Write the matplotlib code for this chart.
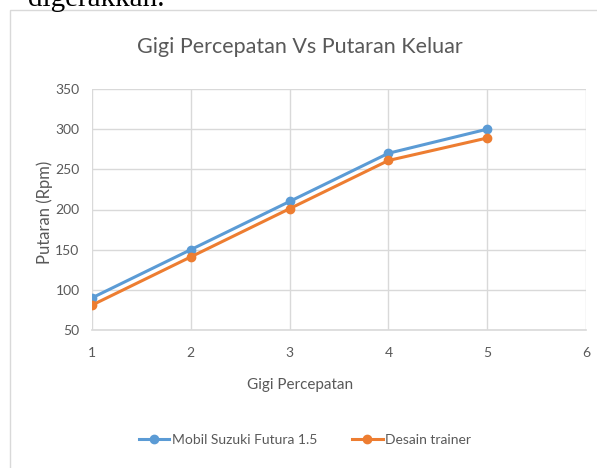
import matplotlib
matplotlib.use("Agg")
import matplotlib.pyplot as plt
from matplotlib.patches import Rectangle

gears = [1, 2, 3, 4, 5]
suzuki = [90, 150, 210, 270, 300]
trainer = [81, 141, 201, 261, 289]
series_names = ["Mobil Suzuki Futura 1.5", "Desain trainer"]
title = "Gigi Percepatan Vs Putaran Keluar"
xlabel = "Gigi Percepatan"
ylabel = "Putaran (Rpm)"
yticks = [50, 100, 150, 200, 250, 300, 350]
xticks = [1, 2, 3, 4, 5, 6]

FONT = ["Lato", "DejaVu Sans"]
plt.rcParams['font.family'] = FONT

W, H = 597, 468
fig = plt.figure(figsize=(W / 100, H / 100), dpi=100)

# chart frame
fig.patches.append(Rectangle((10 / W, -0.01), 1.0, (H - 10) / H + 0.01, transform=fig.transFigure,
                             fill=False, edgecolor="#d9d9d9", linewidth=1.0))
# cut-off document text above chart
fig.text(28 / W, 1 - 6 / H, "digerakkan.", family=["Liberation Serif", "DejaVu Serif"],
         fontsize=21, color="black", va="baseline", ha="left")

ax = fig.add_axes([92 / W, 1 - 330 / H, (586 - 92) / W, (330 - 89) / H])
blue = "#5B9BD5"
orange = "#ED7D31"
ax.plot(gears, suzuki, color=blue, lw=2.2, marker="o", ms=6, label=series_names[0], zorder=3)
ax.plot(gears, trainer, color=orange, lw=2.2, marker="o", ms=6, label=series_names[1], zorder=3)

ax.set_xlim(1, 6)
ax.set_ylim(50, 350)
ax.set_xticks(xticks)
ax.set_yticks(yticks)
ax.grid(True, color="#d9d9d9", lw=1)
ax.set_axisbelow(True)
for s in ["top", "right", "left"]:
    ax.spines[s].set_visible(False)
ax.spines["bottom"].set_color("#d9d9d9")
ax.spines["bottom"].set_linewidth(1.2)
ax.tick_params(length=0, labelsize=10, colors="#595959", pad=12)
ax.tick_params(axis="y", pad=9)

fig.text(300 / W, 1 - 47 / H, title, ha="center", va="center", fontsize=15.5, color="#595959")
fig.text(300 / W, 1 - 385 / H, xlabel, ha="center", va="center", fontsize=11, color="#595959")
fig.text(45 / W, 1 - 212 / H, ylabel, ha="center", va="center", rotation=90, fontsize=12,
         color="#595959")

leg = fig.legend(loc="center", bbox_to_anchor=(305 / W, 1 - 440 / H), ncol=2, frameon=False,
                 fontsize=10, handlelength=2.2, columnspacing=2.5, handletextpad=0.2)
for t in leg.get_texts():
    t.set_color("#595959")

fig.savefig("out.png", dpi=100)
